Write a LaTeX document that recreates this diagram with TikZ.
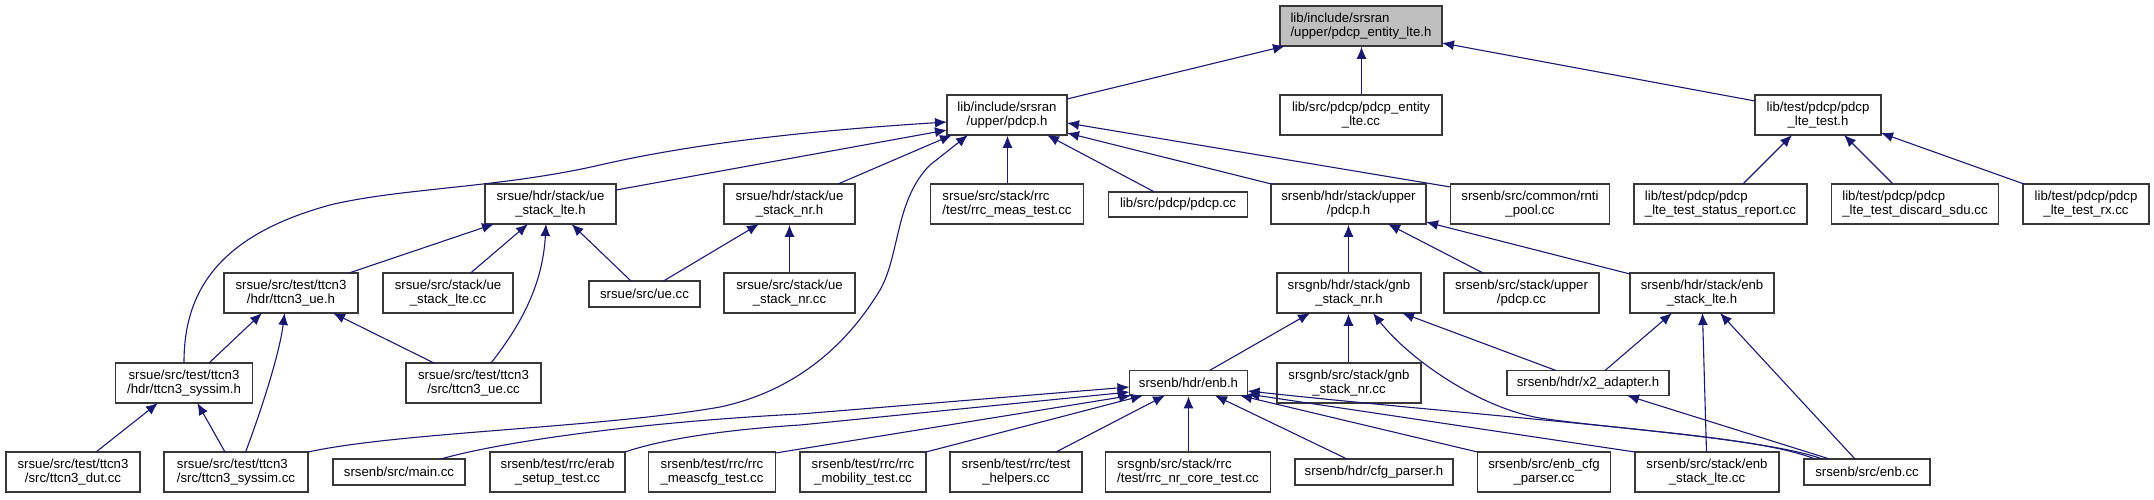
\documentclass[tikz,border=0pt]{standalone}
\usepackage{fontspec}
\setmainfont{Liberation Sans}
\usetikzlibrary{arrows.meta,calc}
\definecolor{navy}{HTML}{191970}
\definecolor{rootgray}{HTML}{BFBFBF}
\newcommand\gn[7]{\node[gbox,minimum width={#4*0.5pt},minimum height={#5*0.5pt},#6] (#1) at (#2,#3) {#7};}
\begin{document}
\begin{tikzpicture}[x=0.5pt,y=-0.5pt,
 gbox/.style={draw=black!78, line width=0.75pt, fill=white, inner sep=0pt, font=\fontsize{6.6}{7.15}\selectfont, align=center},
 lnk/.style={draw=navy, line width=0.55pt, -{Latex[length=6pt,width=5pt]}}]
\useasboundingbox (0,0) rectangle (2154,499);
% row 1
\gn{root}{1361}{26}{162}{40}{fill=rootgray,align=left}{lib/include/srsran\\/upper/pdcp\_entity\_lte.h}
% row 2
\gn{pdcph}{1007}{115}{120}{40}{}{lib/include/srsran\\/upper/pdcp.h}
\gn{entitycc}{1361}{115}{162}{40}{}{lib/src/pdcp/pdcp\_entity\\\_lte.cc}
\gn{ltetesth}{1818}{115}{126}{40}{}{lib/test/pdcp/pdcp\\\_lte\_test.h}
% row 3
\gn{uelteh}{550.5}{204}{131}{40}{}{srsue/hdr/stack/ue\\\_stack\_lte.h}
\gn{uenrh}{789.5}{204}{131}{40}{}{srsue/hdr/stack/ue\\\_stack\_nr.h}
\gn{rrcmeas}{1007}{204}{153}{40}{align=left}{srsue/src/stack/rrc\\/test/rrc\_meas\_test.cc}
\gn{pdcpcc}{1178}{204.5}{139}{25}{}{lib/src/pdcp/pdcp.cc}
\gn{enbpdcph}{1348.5}{204}{155}{40}{}{srsenb/hdr/stack/upper\\/pdcp.h}
\gn{rnti}{1530}{204}{159}{40}{}{srsenb/src/common/rnti\\\_pool.cc}
\gn{status}{1720.5}{204}{173}{40}{align=left}{lib/test/pdcp/pdcp\\\_lte\_test\_status\_report.cc}
\gn{discard}{1915}{204}{167}{40}{align=left}{lib/test/pdcp/pdcp\\\_lte\_test\_discard\_sdu.cc}
\gn{rx}{2086}{204}{126}{40}{}{lib/test/pdcp/pdcp\\\_lte\_test\_rx.cc}
% row 4
\gn{ttcn3ueh}{291}{293}{134}{40}{}{srsue/src/test/ttcn3\\/hdr/ttcn3\_ue.h}
\gn{uestackltecc}{448}{293}{130}{40}{}{srsue/src/stack/ue\\\_stack\_lte.cc}
\gn{uecc}{644.5}{294}{111}{26}{}{srsue/src/ue.cc}
\gn{uestacknrcc}{789.5}{293}{131}{40}{}{srsue/src/stack/ue\\\_stack\_nr.cc}
\gn{gnbh}{1349}{293}{144}{40}{}{srsgnb/hdr/stack/gnb\\\_stack\_nr.h}
\gn{upperpdcpcc}{1521.5}{293}{155}{40}{}{srsenb/src/stack/upper\\/pdcp.cc}
\gn{enbstackh}{1702}{293}{144}{40}{}{srsenb/hdr/stack/enb\\\_stack\_lte.h}
% row 5
\gn{syssimh}{184}{383}{137}{40}{}{srsue/src/test/ttcn3\\/hdr/ttcn3\_syssim.h}
\gn{ttcn3uecc}{473.5}{383}{135}{40}{}{srsue/src/test/ttcn3\\/src/ttcn3\_ue.cc}
\gn{enbh}{1188.5}{383}{118}{25}{}{srsenb/hdr/enb.h}
\gn{gnbcc}{1349}{383}{144}{40}{}{srsgnb/src/stack/gnb\\\_stack\_nr.cc}
\gn{x2}{1588}{383}{162}{25}{}{srsenb/hdr/x2\_adapter.h}
% row 6
\gn{dut}{73}{472}{134}{40}{}{srsue/src/test/ttcn3\\/src/ttcn3\_dut.cc}
\gn{syssimcc}{236}{472}{144}{40}{align=left}{srsue/src/test/ttcn3\\/src/ttcn3\_syssim.cc}
\gn{maincc}{399}{472}{132}{26}{}{srsenb/src/main.cc}
\gn{erab}{557.5}{472}{135}{40}{}{srsenb/test/rrc/erab\\\_setup\_test.cc}
\gn{meascfg}{712}{472}{127}{40}{}{srsenb/test/rrc/rrc\\\_meascfg\_test.cc}
\gn{mobility}{863}{472}{126}{40}{}{srsenb/test/rrc/rrc\\\_mobility\_test.cc}
\gn{helpers}{1016}{472}{132}{40}{}{srsenb/test/rrc/test\\\_helpers.cc}
\gn{nrcore}{1188}{472}{165}{40}{align=left}{srsgnb/src/stack/rrc\\/test/rrc\_nr\_core\_test.cc}
\gn{cfgparser}{1374}{472}{158}{26}{}{srsenb/hdr/cfg\_parser.h}
\gn{enbcfg}{1544}{472}{133}{40}{}{srsenb/src/enb\_cfg\\\_parser.cc}
\gn{stackcc}{1707}{472}{144}{40}{}{srsenb/src/stack/enb\\\_stack\_lte.cc}
\gn{enbcc}{1867}{472}{126}{26}{}{srsenb/src/enb.cc}
% edges
\draw[lnk] ($(pdcph)+(60,-16)$) -- ($(root)+(-76,20)$);
\draw[lnk] ($(entitycc.north)+(0.5,0)$) -- ($(root.south)+(0.5,0)$);
\draw[lnk] ($(ltetesth)+(-63,-14)$) -- ($(root)+(81,17)$);
\draw[lnk] ($(status)+(22.5,-20)$) -- ($(ltetesth)+(-26,20)$);
\draw[lnk] ($(discard)+(-22,-20)$) -- ($(ltetesth)+(26,20)$);
\draw[lnk] ($(rx)+(-62,-20)$) -- ($(ltetesth)+(63,18)$);
\draw[lnk] ($(uelteh)+(65.5,-14)$) -- ($(pdcph)+(-60,15)$);
\draw[lnk] ($(uenrh)+(48.5,-20)$) -- ($(pdcph)+(-55,20)$);
\draw[lnk] ($(rrcmeas.north)+(0.5,0)$) -- ($(pdcph.south)+(0.5,0)$);
\draw[lnk] ($(pdcpcc)+(-23.5,-12.5)$) -- ($(pdcph)+(40,20)$);
\draw[lnk] ($(enbpdcph)+(-77,-20)$) -- ($(pdcph)+(60,18)$);
\draw[lnk] ($(rnti)+(-79.5,-17)$) -- ($(pdcph)+(60,8)$);
\draw[lnk] (syssimh.north) .. controls (184,290) and (220,235) .. (330,205)
  .. controls (400,188) and (500,188) .. (600,165)
  .. controls (700,142) and (820,130) .. ($(pdcph)+(-60,7)$);
\draw[lnk] ($(syssimcc)+(72,-20)$) .. controls (400,432) and (600,428) .. (720,407)
  .. controls (800,390) and (850,340) .. (880,290)
  .. controls (900,255) and (895,200) .. (930,165) -- ($(pdcph)+(-39,20)$);
\draw[lnk] ($(ttcn3ueh)+(58,-20)$) -- ($(uelteh)+(-56.5,20)$);
\draw[lnk] ($(uestackltecc)+(22.6,-20)$) -- ($(uelteh)+(-22.5,20)$);
\draw[lnk] ($(ttcn3uecc)+(17.5,-20)$) .. controls (525,320) and (543,280) .. ($(uelteh)+(-4.5,20)$);
\draw[lnk] ($(uecc)+(-13.5,-13)$) -- ($(uelteh)+(21,20)$);
\draw[lnk] ($(uecc)+(19,-13)$) -- ($(uenrh)+(-30.5,20)$);
\draw[lnk] (uestacknrcc) -- (uenrh);
\draw[lnk] ($(syssimh)+(25,-20)$) -- ($(ttcn3ueh)+(-29,20)$);
\draw[lnk] ($(syssimcc)+(9.6,-20)$) .. controls (265,400) and (280,350) .. ($(ttcn3ueh)+(-6.4,20)$);
\draw[lnk] ($(ttcn3uecc)+(-39.5,-20)$) -- ($(ttcn3ueh)+(42,20)$);
\draw[lnk] ($(dut)+(23,-20)$) -- ($(syssimh)+(-26,20)$);
\draw[lnk] ($(syssimcc)+(-11,-20)$) -- ($(syssimh)+(13.4,20)$);
\draw[lnk] ($(gnbh.north)+(-0.5,0)$) -- (enbpdcph.south);
\draw[lnk] ($(upperpdcpcc)+(-38.5,-20)$) -- ($(enbpdcph)+(39.5,20)$);
\draw[lnk] ($(enbstackh)+(-72,-19)$) -- ($(enbpdcph)+(77.5,18)$);
\draw[lnk] ($(enbh)+(21,-12.5)$) -- ($(gnbh)+(-39,20)$);
\draw[lnk] ($(gnbcc.north)+(-0.5,0)$) -- ($(gnbh.south)+(-0.5,0)$);
\draw[lnk] ($(x2)+(-32,-12.5)$) -- ($(gnbh)+(53,20)$);
\draw[lnk] ($(enbcc)+(-52,-13)$) .. controls (1760,437) and (1620,430) .. (1540,418)
  .. controls (1480,408) and (1410,360) .. ($(gnbh)+(24,20)$);
\draw[lnk] ($(x2)+(17,-12.5)$) -- ($(enbstackh)+(-30,20)$);
\draw[lnk] ($(stackcc)+(-0.5,-20)$) -- ($(enbstackh)+(0.5,20)$);
\draw[lnk] ($(enbcc)+(-12,-13)$) -- ($(enbstackh)+(18,20)$);
\draw[lnk] ($(enbcc)+(-37.4,-13)$) -- ($(x2)+(39,12.5)$);
\draw[lnk] ($(maincc)+(41.8,-13)$) .. controls (500,442) and (640,422) .. (800,414) -- ($(enbh)+(-59,4)$);
\draw[lnk] ($(erab)+(67.5,-20)$) .. controls (660,440) and (720,430) .. (800,425) -- ($(enbh)+(-59,9)$);
\draw[lnk] ($(meascfg)+(63.5,-19)$) -- ($(enbh)+(-57.5,12.5)$);
\draw[lnk] ($(mobility)+(63,-20)$) -- ($(enbh)+(-45.5,12.5)$);
\draw[lnk] ($(helpers)+(40,-20)$) -- ($(enbh)+(-23.5,12.5)$);
\draw[lnk] ($(nrcore.north)+(0.5,0)$) -- (enbh.south);
\draw[lnk] ($(cfgparser)+(-27,-13)$) -- ($(enbh)+(26.5,12.5)$);
\draw[lnk] ($(enbcfg)+(-66.5,-20)$) -- ($(enbh)+(51.5,12.5)$);
\draw[lnk] ($(stackcc)+(-72,-20)$) -- ($(enbh)+(59,11)$);
\draw[lnk] ($(enbcc)+(-45,-13)$) .. controls (1760,435) and (1500,418) .. ($(enbh)+(59,8)$);
\end{tikzpicture}
\end{document}
